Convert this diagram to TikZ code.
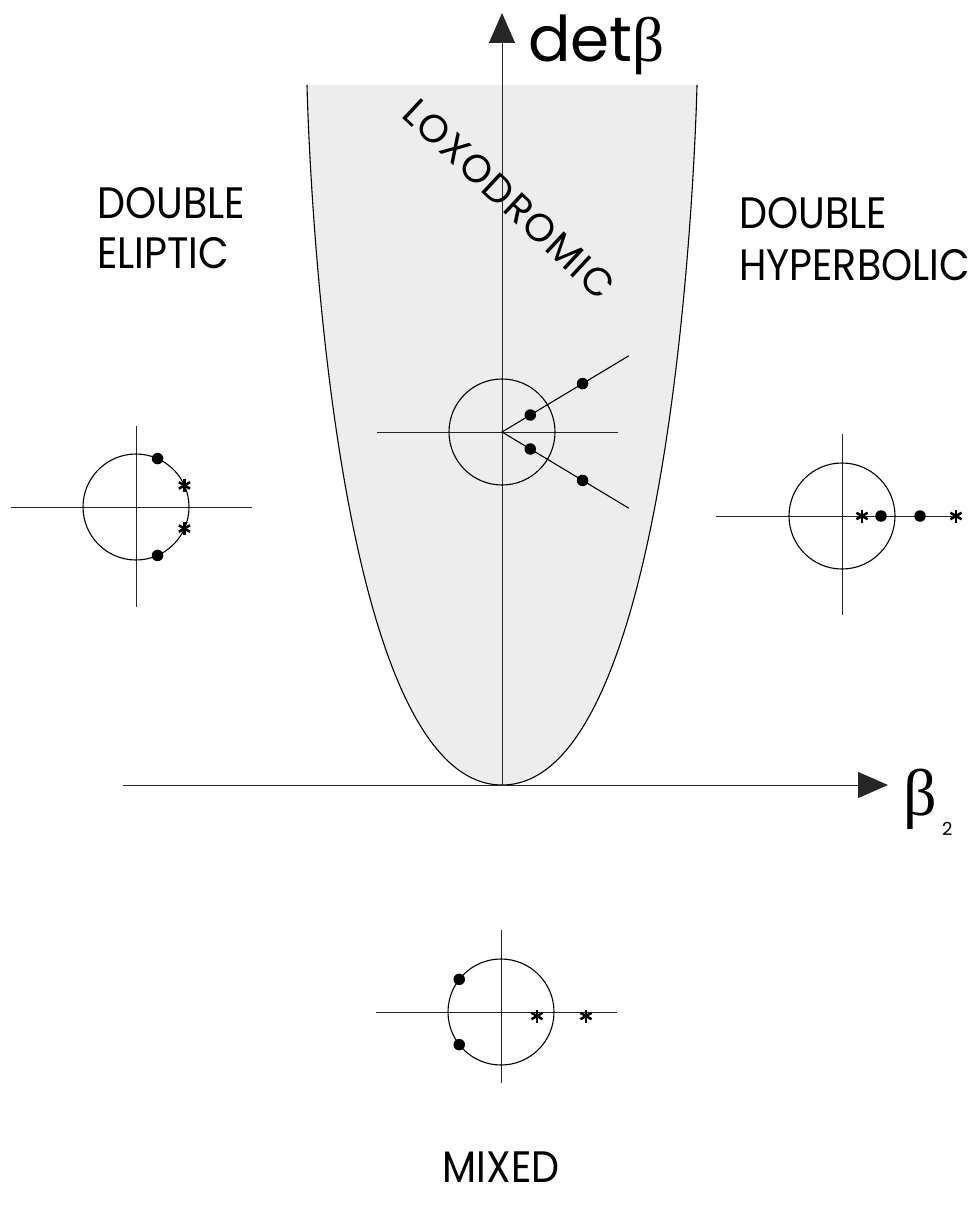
\documentclass[tikz,border=0pt]{standalone}
\usepackage{fontspec}
\setmainfont{Poppins}
\newfontfamily\labelfont{Poppins}[FakeStretch=0.9]
\newfontfamily\loxofont{Poppins}[LetterSpace=4]
\newfontfamily\greekfont{Liberation Serif}
\usetikzlibrary{arrows.meta, positioning}

\tikzset{
  axis/.style={line width=1pt, draw=black!85},
  unitcircle/.style={line width=1.1pt},
  root/.style={circle, fill=black, inner sep=0pt, minimum size=11.5pt},
  regionlabel/.style={font=\labelfont\fontsize{44}{50}\selectfont, inner sep=0pt, anchor=base west},
  pics/astmark/.style={code={
    \draw[line width=2.5pt] (0,-6.5) -- (0,6.5);
    \draw[line width=2.5pt] (-5.6,-3.25) -- (5.6,3.25);
    \draw[line width=2.5pt] (-5.6,3.25) -- (5.6,-3.25);
  }},
}

\begin{document}
\begin{tikzpicture}[x=1pt, y=-1pt, >={Triangle[length=30pt, width=26pt]}]
	\useasboundingbox (0,0) rectangle (976,1209);

	% loxodromic region
	\fill[gray!14] (307,85) .. controls (307,85) and (322,785) .. (502,785)
		.. controls (682,785) and (697,85) .. (697,85) -- cycle;
	\draw[line width=1.1pt] (307,85) .. controls (307,85) and (322,785) .. (502,785)
		.. controls (682,785) and (697,85) .. (697,85);

	% axes
	\coordinate (origin) at (502,785);
	\coordinate (xstart) at (123,785);
	\coordinate (xend) at (888,785);
	\coordinate (yend) at (502,13);
	\draw[axis, ->] (xstart) -- (xend);
	\draw[axis, ->] (origin) -- (yend);
	\node[font=\fontsize{63}{70}\selectfont, inner sep=0pt, anchor=base west] (detlabel) at (528,62) {det{\greekfont β}};
	\node[font=\greekfont\fontsize{66}{70}\selectfont, inner sep=0pt, anchor=base west] (betalabel) at (903,815) {β};
	\node[font=\fontsize{18}{20}\selectfont, inner sep=0pt, anchor=base west] (sublabel) at (942,835) {2};

	% region names
	\node[regionlabel] (ellA) at (97,218) {DOUBLE};
	\node[regionlabel] (ellB) at (97,268) {ELIPTIC};
	\node[regionlabel] (hypA) at (739,228) {DOUBLE};
	\node[regionlabel] (hypB) at (739,280) {HYPERBOLIC};
	\node[regionlabel, anchor=base] (mixed) at (501,1182) {MIXED};
	\node[font=\loxofont\fontsize{39}{46}\selectfont, inner sep=0pt, rotate=-43] (loxo) at (509,199) {LOXODROMIC};

	% loxodromic roots
	\begin{scope}[shift={(502,432)}]
		\coordinate (lc) at (0,0);
		\draw[axis] (-125,0) -- (116,0);
		\draw[unitcircle] (lc) circle (53);
		\coordinate (lray1) at (-31:148);
		\coordinate (lray2) at (31:148);
		\draw[unitcircle] (lray1) -- (lc) -- (lray2);
		\node[root] (l1) at (-31:33) {};
		\node[root] (l2) at (-31:94) {};
		\node[root] (l3) at (31:33) {};
		\node[root] (l4) at (31:94) {};
	\end{scope}

	% double eliptic roots
	\begin{scope}[shift={(136,507)}]
		\draw[axis] (-125,0) -- (116,0);
		\draw[axis] (0,-81) -- (0,100);
		\draw[unitcircle] (0,0) circle (53);
		\node[root] (e1) at (-66:53) {};
		\node[root] (e2) at (66:53) {};
		\pic at (-24:53) {astmark};
		\pic at (24:53) {astmark};
	\end{scope}

	% double hyperbolic roots
	\begin{scope}[shift={(842,516)}]
		\draw[axis] (-126,0) -- (116,0);
		\draw[axis] (0,-82) -- (0,99);
		\draw[unitcircle] (0,0) circle (53);
		\pic at (20,0) {astmark};
		\node[root] (h1) at (39,0) {};
		\node[root] (h2) at (78,0) {};
		\pic at (114,0) {astmark};
	\end{scope}

	% mixed roots
	\begin{scope}[shift={(501,1012)}]
		\draw[axis] (-125,0) -- (116,0);
		\draw[axis] (0,-82) -- (0,71);
		\draw[unitcircle] (0,0) circle (53);
		\node[root] (m1) at (-142:53) {};
		\node[root] (m2) at (142:53) {};
		\pic at (36,4) {astmark};
		\pic at (85,4) {astmark};
	\end{scope}
\end{tikzpicture}
\end{document}
